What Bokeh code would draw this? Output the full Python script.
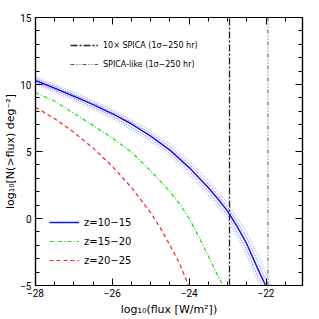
from bokeh.plotting import figure
from bokeh.models import (LinearAxis, SingleIntervalTicker, Legend, LegendItem,
                          CustomJSTickFormatter, Range1d)
from bokeh.embed import file_html
from bokeh.resources import INLINE

# ---------------- data ----------------
x_min, x_max = -28.0, -21.05
y_min, y_max = -5.0, 15.0

# detection limits (log10 flux, W/m^2)
spica10_flux = -22.95
spica_like_flux = -21.95

# z = 10-15 (blue, solid)
blue_x = [-28, -27.5, -27, -26.5, -26, -25.5, -25, -24.5, -24, -23.5, -23.25, -23, -22.75, -22.5, -22.3, -22.15, -22.01]
blue_y = [10.3, 9.72, 9.12, 8.5, 7.82, 7.05, 6.15, 5.1, 3.8, 2.3, 1.45, 0.55, -0.6, -1.9, -3.2, -4.15, -5.0]

# uncertainty envelope of z = 10-15
band_up_out_x = [-28, -27, -26, -25, -24.5, -24, -23.5, -23, -22.5, -22.2, -22.0, -21.86]
band_up_out_y = [10.58, 9.42, 8.15, 6.55, 5.55, 4.3, 2.85, 1.15, -1.05, -2.8, -4.1, -5.0]
band_up_in_x = [-28, -27, -26, -25, -24.5, -24, -23.5, -23, -22.5, -22.2, -22.05, -21.93]
band_up_in_y = [10.45, 9.27, 7.99, 6.36, 5.33, 4.05, 2.58, 0.85, -1.45, -3.3, -4.3, -5.0]
band_lo_in_x = [-28, -27, -26, -25, -24.5, -24, -23.5, -23, -22.5, -22.3, -22.2, -22.08]
band_lo_in_y = [10.15, 8.97, 7.65, 5.94, 4.87, 3.55, 2.02, 0.25, -2.35, -3.75, -4.4, -5.0]
band_lo_out_x = [-28, -27, -26, -25, -24.5, -24, -23.5, -23, -22.5, -22.35, -22.25, -22.15]
band_lo_out_y = [10.02, 8.82, 7.48, 5.75, 4.65, 3.3, 1.75, -0.05, -2.75, -3.75, -4.45, -5.0]

# z = 15-20 (green, dash-dot)
green_x = [-28, -27.5, -27, -26.5, -26, -25.5, -25, -24.5, -24.25, -24, -23.75, -23.5, -23.3, -23.12]
green_y = [9.4, 8.75, 7.85, 6.95, 6.0, 4.95, 3.55, 2.0, 1.1, 0.0, -1.35, -2.8, -4.0, -5.0]

# z = 20-25 (red, dashed)
red_x = [-28, -27.5, -27, -26.5, -26, -25.5, -25, -24.75, -24.5, -24.27, -24.15, -24.02]
red_y = [8.3, 7.45, 6.43, 5.25, 3.9, 2.3, 0.42, -0.7, -2.0, -3.24, -4.05, -5.0]

x_label = "log₁₀(flux [W/m²])"
y_label = "log₁₀[N(>flux) deg⁻²]"
legend_top_labels = ["10× SPICA (1σ−250 hr)", "SPICA-like (1σ−250 hr)"]
legend_z_labels = ["z=10−15", "z=15−20", "z=20−25"]

# ---------------- figure ----------------
p = figure(width=319, height=319, x_range=Range1d(x_min, x_max), y_range=Range1d(y_min, y_max),
           output_backend="svg", toolbar_location=None,
           min_border_left=35, min_border_right=17, min_border_top=17, min_border_bottom=34)
p.xgrid.grid_line_color = None
p.ygrid.grid_line_color = None
p.outline_line_color = "black"
p.outline_line_width = 1.2
p.background_fill_color = "white"

fmt = CustomJSTickFormatter(code='return tick < 0 ? "\\u2212" + Math.abs(tick) : tick.toString();')
blank = CustomJSTickFormatter(code='return "";')


def style_axis(ax, show_labels):
    ax.major_tick_in = 7
    ax.major_tick_out = 0
    ax.minor_tick_in = 4
    ax.minor_tick_out = 0
    ax.axis_line_color = "black"
    ax.axis_line_width = 1.2
    ax.major_tick_line_color = "black"
    ax.minor_tick_line_color = "black"
    ax.major_tick_line_width = 1
    ax.minor_tick_line_width = 1
    if show_labels:
        ax.formatter = fmt
        ax.major_label_text_font = "Roboto"
        ax.major_label_text_font_size = "10px"
        ax.major_label_text_color = "black"
        ax.axis_label_text_font = "DejaVu Sans"
        ax.axis_label_text_font_style = "normal"
        ax.axis_label_text_color = "black"
    else:
        ax.formatter = blank
        ax.major_label_standoff = 0


xt = lambda: SingleIntervalTicker(interval=2, num_minor_ticks=4)
yt = lambda: SingleIntervalTicker(interval=5, num_minor_ticks=5)

p.xaxis.ticker = xt()
p.yaxis.ticker = yt()
style_axis(p.xaxis[0], True)
style_axis(p.yaxis[0], True)
p.xaxis.major_label_standoff = 3
p.yaxis.major_label_standoff = 4
p.xaxis.axis_label = x_label
p.xaxis.axis_label_text_font_size = "11px"
p.xaxis.axis_label_standoff = 3
p.yaxis.axis_label = y_label
p.yaxis.axis_label_text_font_size = "11px"
p.yaxis.axis_label_standoff = 0

ax_top = LinearAxis(ticker=xt())
style_axis(ax_top, False)
p.add_layout(ax_top, "above")
ax_right = LinearAxis(ticker=yt())
style_axis(ax_right, False)
p.add_layout(ax_right, "right")

# ---------------- curves ----------------
for bx, by, col in [(band_up_out_x, band_up_out_y, "#a6a6ff"), (band_lo_out_x, band_lo_out_y, "#a6a6ff"),
                    (band_up_in_x, band_up_in_y, "#6464ff"), (band_lo_in_x, band_lo_in_y, "#6464ff")]:
    p.line(bx, by, line_color=col, line_width=1, line_dash="1 1")

r_blue = p.line(blue_x, blue_y, line_color="#1414f0", line_width=1.5)
r_green = p.line(green_x, green_y, line_color="#19dd19", line_width=1.2, line_dash="4 2 1 2")
r_red = p.line(red_x, red_y, line_color="#ff2020", line_width=1.2, line_dash="4 3")

r_v1 = p.line([spica10_flux, spica10_flux], [y_min, y_max], line_color="#222222", line_width=1.3,
              line_dash="7 2 2 2")
r_v2 = p.line([spica_like_flux, spica_like_flux], [y_min, y_max], line_color="#555555", line_width=1,
              line_dash="4 2 1 2 1 2")

# ---------------- legends ----------------
leg_top = Legend(items=[LegendItem(label=legend_top_labels[0], renderers=[r_v1]),
                        LegendItem(label=legend_top_labels[1], renderers=[r_v2])],
                 location=(35, 213), padding=0, margin=0, spacing=3,
                 glyph_width=28, glyph_height=16, label_height=16, label_standoff=5,
                 label_text_font="DejaVu Sans", label_text_font_size="8px", label_text_color="black",
                 border_line_alpha=0, background_fill_alpha=0)
leg_bot = Legend(items=[LegendItem(label=legend_z_labels[0], renderers=[r_blue]),
                        LegendItem(label=legend_z_labels[1], renderers=[r_green]),
                        LegendItem(label=legend_z_labels[2], renderers=[r_red])],
                 location=(14, 17), padding=0, margin=0, spacing=3,
                 glyph_width=30, glyph_height=16, label_height=16, label_standoff=5,
                 label_text_font="DejaVu Sans", label_text_font_size="10px", label_text_color="black",
                 border_line_alpha=0, background_fill_alpha=0)
p.add_layout(leg_top)
p.add_layout(leg_bot)

open("out.html", "w").write(file_html(p, INLINE))
